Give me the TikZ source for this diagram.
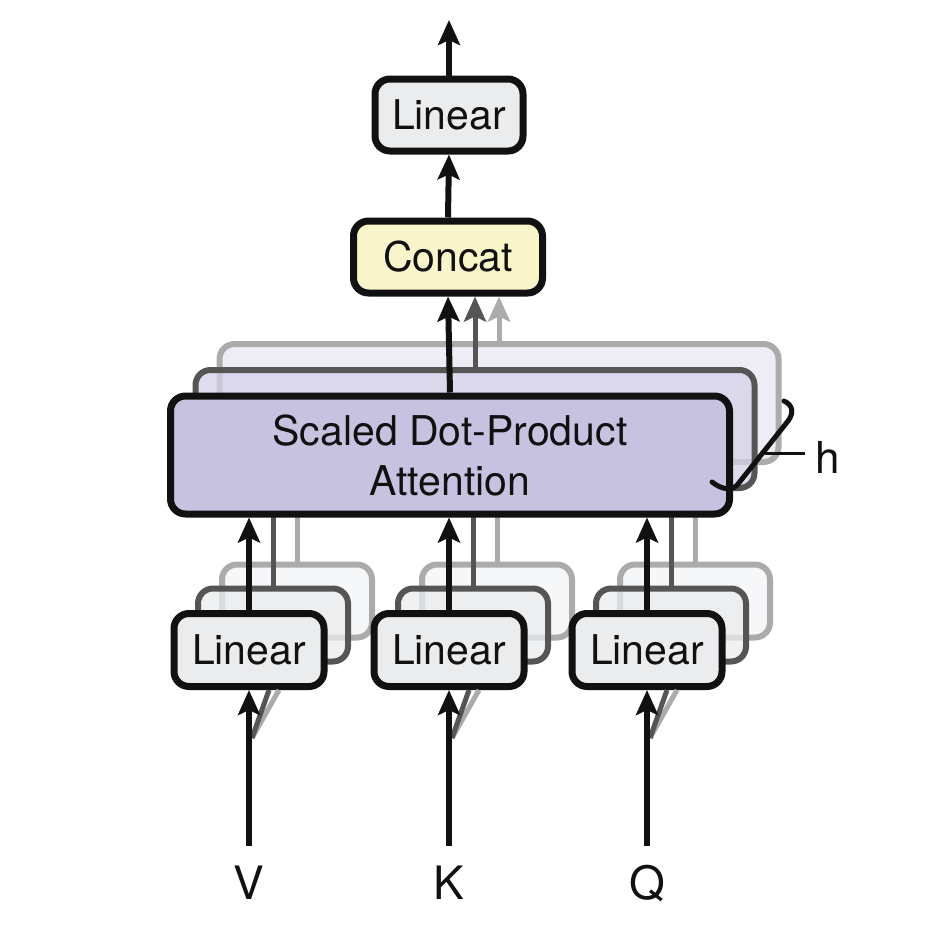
\documentclass[tikz,border=0pt]{standalone}
\usepackage{fontspec}
\setmainfont{TeX Gyre Heros}
\usetikzlibrary{arrows.meta,calc}

\definecolor{ink}{HTML}{111111}
\definecolor{linfill}{HTML}{EBECEE}
\definecolor{catfill}{HTML}{F8F5CB}
\definecolor{attfill}{HTML}{C6C2DF}
\definecolor{midgray}{HTML}{555555}
\definecolor{palegray}{HTML}{ABABAB}

\begin{document}
\begin{tikzpicture}[x=1pt,y=-1pt,
  box/.style={draw=ink, line width=7pt, rounded corners=15pt, inner sep=0pt,
    align=center, text=ink, font=\fontsize{41}{50}\selectfont},
  linbox/.style={box, fill=linfill, minimum width=150pt, minimum height=73pt},
  backmid/.style={draw=midgray, line width=6pt, rounded corners=15pt, inner sep=0pt, fill opacity=0.75},
  backpale/.style={draw=palegray, line width=6pt, rounded corners=15pt, inner sep=0pt, fill opacity=0.75},
  linback/.style={minimum width=150pt, minimum height=73pt},
  attsize/.style={minimum width=559pt, minimum height=118pt},
  tip/.style={-{Stealth[length=25pt,width=22pt,inset=5pt]}},
  flow/.style={tip, draw=ink, line width=6pt},
  flowmid/.style={tip, draw=midgray, line width=5pt},
  flowpale/.style={tip, draw=palegray, line width=5pt},
  feedmid/.style={draw=midgray, line width=5pt},
  feedpale/.style={draw=palegray, line width=5pt},
  splitmid/.style={draw=midgray, line width=5pt},
  splitpale/.style={draw=palegray, line width=5pt},
  tag/.style={inner sep=0pt, text=ink, font=\fontsize{46}{50}\selectfont,
    text height=33pt, text depth=0pt},
]
\useasboundingbox (0,0) rectangle (934,926);

% ---- stacked heads of the attention block (back to front)
\node[backpale, attsize, fill=attfill!40] (attc) at (499,403) {};
\node[backmid, attsize, fill=attfill!75] (attb) at (475,429) {};

% ---- stacked projections for V, K, Q (back layers)
\foreach \n/\x in {V/249,K/449,Q/647}{
  \node[backpale, linback, fill=linfill!60] (lin\n c) at (\x+48,601) {};
  \node[backmid, linback, fill=linfill] (lin\n b) at (\x+24,625) {};
}

% ---- feeds of the back heads into the attention block
\foreach \n in {V,K,Q}{
  \draw[feedpale] (lin\n c.north) -- (lin\n c.north |- attc.south);
  \draw[feedmid] (lin\n b.north) -- (lin\n b.north |- attc.south);
}

% ---- front boxes
\node[box, fill=attfill, attsize] (att) at (450,455)
  {Scaled Dot-Product\\Attention};
\node[box, fill=catfill, minimum width=189pt, minimum height=72pt] (cat) at (448,257) {Concat};
\node[box, fill=linfill, minimum width=148pt, minimum height=72pt] (out) at (449,115) {Linear};
\coordinate (top) at (449,20);

\foreach \n/\x in {V/249,K/449,Q/647}{
  \node[linbox] (lin\n) at (\x,650) {Linear};
  \node[tag] (in\n) at (\x,883) {\n};
  \coordinate (split\n) at (\x+3,738);
  % copies of the input going to the other heads
  \draw[splitpale] (split\n) -- ($(lin\n.south)+(30,0)$);
  \draw[splitmid] (split\n) -- ($(lin\n.south)+(20,0)$);
  \draw[flow, shorten <=20pt] (in\n.north) -- (lin\n.south);
  \draw[flow] (lin\n.north) -- (lin\n.north |- att.south);
}

% ---- outputs of the heads into Concat
\draw[flowpale] (attc.north) -- (attc.north |- cat.south);
\draw[flowmid] (attb.north) -- (attb.north |- cat.south);
\draw[flow] (att.north) -- (cat.south);
\draw[flow] (cat.north) -- (out.south);
\draw[flow] (out.north) -- (top);

% ---- head count bracket
\coordinate (brtop) at (784,401);
\coordinate (brbot) at (712,482);
\draw[ink, line width=5pt, line cap=round]
  (brtop) .. controls (793,405) and (794,413) .. (788,421)
  -- (738,484) .. controls (733,491) and (722,490) .. (brbot);
\node[inner sep=0pt, text=ink, font=\fontsize{44}{50}\selectfont, anchor=west] (hlab) at (815,457) {h};
\coordinate (hstart) at (765,453);
\draw[ink, line width=3pt] (hstart) -- ($(hlab.west |- hstart)+(-10,0)$);
\end{tikzpicture}
\end{document}
